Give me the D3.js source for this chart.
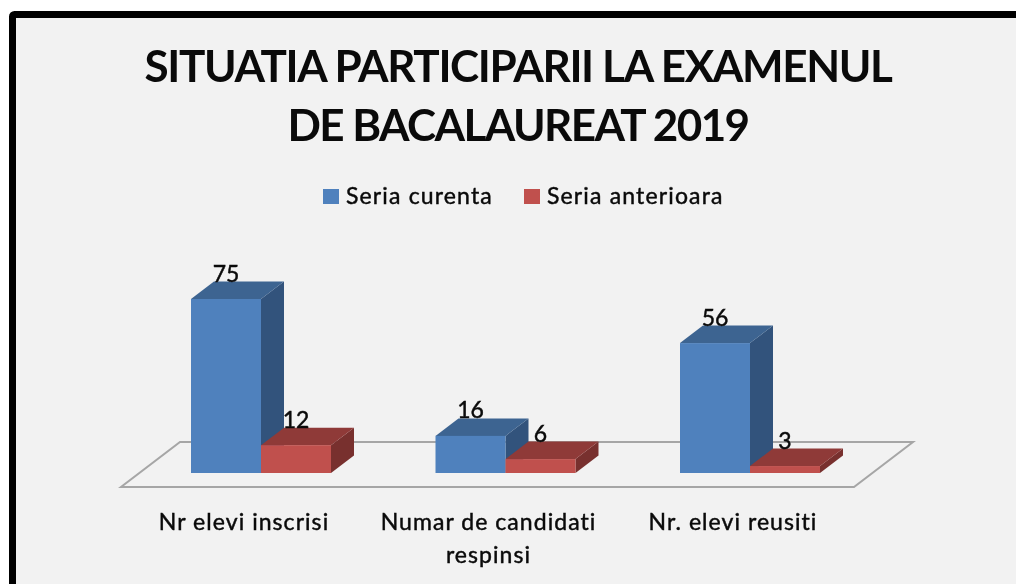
<!DOCTYPE html>
<html>
<head>
<meta charset="utf-8">
<script src="https://cdn.jsdelivr.net/npm/d3@7"></script>
<style>
  html, body { margin: 0; padding: 0; background: #fff; overflow: hidden; }
  text { font-family: Lato, "Open Sans", sans-serif; fill: #0a0a0a; }
  .soft { stroke: #0a0a0a; stroke-width: 0.45px; }
  #chart svg { filter: blur(0.6px); }
</style>
</head>
<body>
<div id="chart"></div>
<script>
const width = 1016;
const height = 584;

// Data
const titleLines = ["SITUATIA PARTICIPARII LA EXAMENUL", "DE BACALAUREAT 2019"];
const categories = ["Nr elevi inscrisi", "Numar de candidati respinsi", "Nr. elevi reusiti"];
const seriesNames = ["Seria curenta", "Seria anterioara"];
const seriaCurenta = [75, 16, 56];
const seriaAnterioara = [12, 6, 3];

// Colours: front, top, side
const colors = [
  { front: "#4f81bd", top: "#3d6491", side: "#32537c" },
  { front: "#c0504d", top: "#8f3a38", side: "#78302e" }
];

// 3d look of the bars
const depthX = 23;
const depthY = -17.5;

const svg = d3.select("#chart").append("svg")
  .attr("width", width)
  .attr("height", height);

// Panel and thick border (runs off the right and bottom of the picture)
svg.append("rect")
  .attr("x", 12.5).attr("y", 14.5)
  .attr("width", width + 20).attr("height", height + 20)
  .attr("rx", 2)
  .attr("fill", "#f2f2f2")
  .attr("stroke", "#000")
  .attr("stroke-width", 7);

// Scales
const x0 = d3.scaleBand()
  .domain(categories)
  .range([191, 820])
  .paddingInner(0.4274);

const x1 = d3.scaleBand()
  .domain(seriesNames)
  .range([0, x0.bandwidth()]);

const y = d3.scaleLinear()
  .domain([0, 75])
  .range([473, 299]);

// Floor
const floorY = y(0) + 14;
const floorBack = floorY - 45;
svg.append("path")
  .attr("d", d3.line()([[121, floorY], [854, floorY], [913, floorBack], [180, floorBack]]) + "Z")
  .attr("fill", "#f2f2f2")
  .attr("stroke", "#a6a6a6")
  .attr("stroke-width", 2);

// Bars, back to front per group
const rows = categories.map((c, i) => ({
  category: c,
  values: [seriaCurenta[i], seriaAnterioara[i]]
}));

const line = d3.line();
const group = svg.append("g")
  .selectAll("g")
  .data(rows)
  .join("g")
  .attr("transform", d => `translate(${x0(d.category)},0)`);

const bar = group.selectAll("g")
  .data(d => d.values.map((v, i) => ({ value: v, name: seriesNames[i], c: colors[i] })))
  .join("g");

bar.append("path")
  .attr("fill", d => d.c.side)
  .attr("d", d => {
    const r = x1(d.name) + x1.bandwidth();
    return line([[r, y(d.value)], [r + depthX, y(d.value) + depthY], [r + depthX, y(0) + depthY], [r, y(0)]]) + "Z";
  });

bar.append("path")
  .attr("fill", d => d.c.top)
  .attr("d", d => {
    const l = x1(d.name);
    const r = l + x1.bandwidth();
    return line([[l, y(d.value)], [l + depthX, y(d.value) + depthY], [r + depthX, y(d.value) + depthY], [r, y(d.value)]]) + "Z";
  });

bar.append("rect")
  .attr("x", d => x1(d.name))
  .attr("y", d => y(d.value))
  .attr("width", x1.bandwidth())
  .attr("height", d => y(0) - y(d.value))
  .attr("fill", d => d.c.front);

// Value labels
bar.append("text")
  .attr("class", "soft")
  .attr("x", d => x1(d.name) + x1.bandwidth() / 2)
  .attr("y", d => y(d.value) + depthY)
  .attr("text-anchor", "middle")
  .attr("font-size", 23)
  .text(d => d.value);

// Title
svg.append("g").selectAll("text")
  .data(titleLines)
  .join("text")
  .attr("x", 518)
  .attr("y", (d, i) => 82 + i * 59)
  .attr("text-anchor", "middle")
  .attr("font-size", 44)
  .attr("font-weight", 700)
  .attr("letter-spacing", (d, i) => i ? -1.6 : -1.35)
  .text(d => d);

// Legend
const legend = svg.append("g").selectAll("g")
  .data(seriesNames)
  .join("g")
  .attr("transform", (d, i) => `translate(${[323, 524][i]},189)`);

legend.append("rect")
  .attr("width", 16)
  .attr("height", 15)
  .attr("fill", (d, i) => colors[i].front);

legend.append("text")
  .attr("class", "soft")
  .attr("x", 23)
  .attr("y", 15)
  .attr("font-size", 23)
  .attr("letter-spacing", 1.15)
  .text(d => d);

// Category labels, wrapped like the original
const catLines = [["Nr elevi inscrisi"], ["Numar de candidati", "respinsi"], ["Nr. elevi reusiti"]];
const catLabel = svg.append("g").selectAll("text")
  .data(categories)
  .join("text")
  .attr("class", "soft")
  .attr("text-anchor", "middle")
  .attr("font-size", 23)
  .attr("letter-spacing", 1.05);

catLabel.selectAll("tspan")
  .data((d, i) => catLines[i].map(t => ({ t, c: d })))
  .join("tspan")
  .attr("x", d => x0(d.c) + x0.bandwidth() / 2 - 17)
  .attr("y", (d, i) => 530 + i * 33)
  .text(d => d.t);
</script>
</body>
</html>
